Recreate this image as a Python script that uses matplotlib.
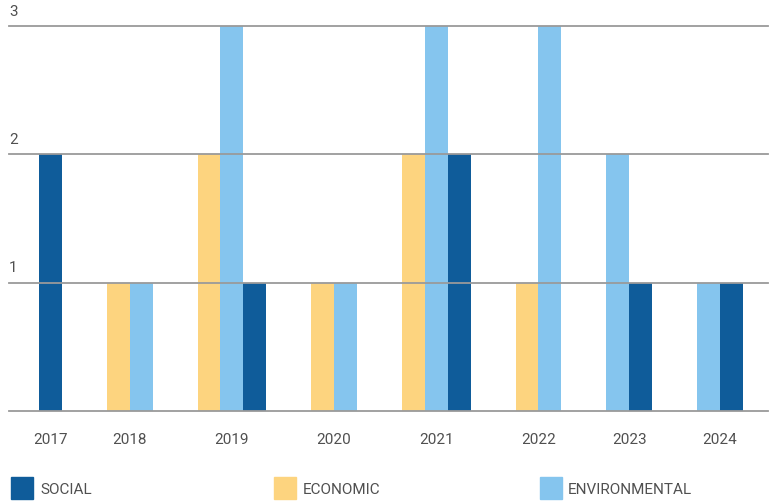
import matplotlib.pyplot as plt
from matplotlib.patches import Rectangle

# данные по годам
years = ['2017', '2018', '2019', '2020', '2021', '2022', '2023', '2024']
social = [2, 0, 1, 0, 2, 0, 1, 1]
economic = [0, 1, 2, 1, 2, 1, 0, 0]
environmental = [0, 1, 3, 1, 3, 3, 2, 1]

c_social = '#0f5c9a'
c_economic = '#fdd47f'
c_environmental = '#85c5ee'
grid_c = '#9a9a9a'
text_c = '#505050'

plt.rcParams['font.family'] = ['Roboto', 'DejaVu Sans']

fig = plt.figure(figsize=(7.7, 5.02), dpi=100)
ax = fig.add_axes([9 / 770, 90 / 502, 759 / 770, 385 / 502])

# столбцы идут подряд, нулевые значения пропускаются, между годами промежуток
gap = 1.965
x = 0.0
centers = []
for i in range(len(years)):
    start = x
    for vals, col in ((economic, c_economic), (environmental, c_environmental), (social, c_social)):
        if vals[i] > 0:
            ax.bar(x, vals[i], width=1.0, align='edge', color=col, zorder=2)
            x += 1.0
    centers.append((start + x) / 2)
    x += gap

ax.set_xlim(-1.31, x - gap + 1.1)
ax.set_ylim(0, 3)

for v in [0, 1, 2, 3]:
    ax.axhline(v, color=grid_c, lw=1.3, zorder=3, clip_on=False)
for v in [1, 2, 3]:
    ax.annotate(str(v), xy=(0, v), xycoords=('axes fraction', 'data'),
                xytext=(0, 6), textcoords='offset points',
                ha='left', va='bottom', fontsize=11, color=text_c)

ax.set_xticks(centers)
ax.set_xticklabels(years, fontsize=11, color=text_c)
ax.tick_params(axis='x', length=0, pad=15)
ax.set_yticks([])
for s in ax.spines.values():
    s.set_visible(False)

# легенда внизу
items = [('SOCIAL', c_social, 11, 40), ('ECONOMIC', c_economic, 274, 303),
         ('ENVIRONMENTAL', c_environmental, 540, 568)]
for label, col, px, tx in items:
    fig.patches.append(Rectangle((px / 770, 2 / 502), 22 / 770, 22 / 502,
                                 transform=fig.transFigure, color=col))
    fig.text(tx / 770, 11.5 / 502, label, fontsize=11, color=text_c,
             ha='left', va='center')

fig.savefig('out.png', dpi=100)
